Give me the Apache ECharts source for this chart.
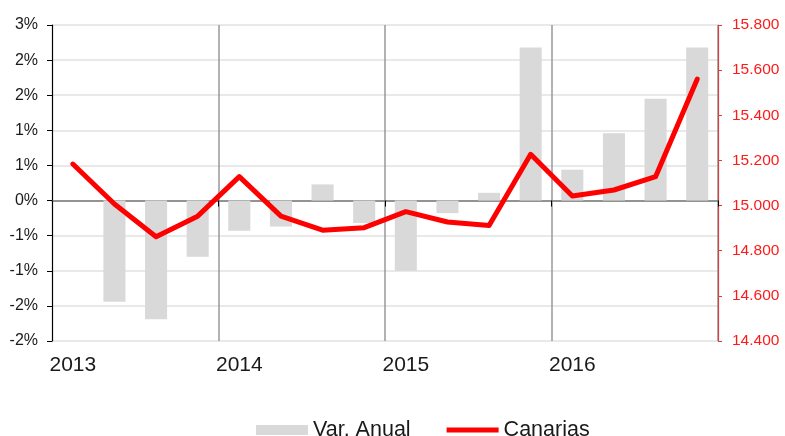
<!DOCTYPE html>
<html>
<head>
<meta charset="utf-8">
<script src="https://cdn.jsdelivr.net/npm/echarts@6/dist/echarts.min.js"></script>
<style>html,body{margin:0;padding:0;background:#fff;}#c{width:785px;height:436px;}</style>
</head>
<body>
<div id="c"></div>
<script>
const quarters = ['2013 T1','2013 T2','2013 T3','2013 T4','2014 T1','2014 T2','2014 T3','2014 T4','2015 T1','2015 T2','2015 T3','2015 T4','2016 T1','2016 T2','2016 T3','2016 T4'];
const yearLabels = ['2013','2014','2015','2016'];
const varAnual = [null, -1.44, -1.69, -0.80, -0.43, -0.37, 0.23, -0.32, -1.00, -0.18, 0.11, 2.18, 0.44, 0.96, 1.45, 2.18];
const canarias = [15184, 15007, 14862, 14953, 15128, 14953, 14891, 14902, 14973, 14927, 14912, 15227, 15042, 15069, 15128, 15560];

const FONT = 'Liberation Sans, Arial, sans-serif';
const chart = echarts.init(document.getElementById('c'), null, {renderer: 'canvas'});
const yearTick = (i) => i % 4 === 0;
const lineIcon = 'path://M0,0L0.01,0L0.01,0.01Z M52,10L51.99,10L51.99,9.99Z M0,2.6L52,2.6L52,7.4L0,7.4Z';
chart.setOption({
  animation: false,
  textStyle: {fontFamily: FONT},
  grid: {left: 52, right: 67, top: 25, bottom: 95, containLabel: false},
  legend: {
    left: 251, top: 414,
    itemWidth: 52, itemHeight: 10, itemGap: 36,
    textStyle: {fontFamily: FONT, fontSize: 21.5, color: '#1a1a1a'},
    data: [
      {name: 'Var. Anual', icon: 'rect'},
      {name: 'Canarias', icon: lineIcon}
    ]
  },
  xAxis: [
    {
      type: 'category', data: quarters, position: 'bottom',
      axisLine: {show: false, onZero: false},
      axisTick: {show: false},
      axisLabel: {
        interval: 0, margin: 14, color: '#1a1a1a', fontSize: 21, fontFamily: FONT,
        formatter: (v, i) => yearTick(i) ? yearLabels[i / 4] : ''
      },
      splitLine: {show: true, interval: (i) => i % 4 === 0 && i > 0, lineStyle: {color: '#999', width: 1.5}}
    },
    {
      type: 'category', data: quarters, position: 'top',
      axisLine: {show: true, onZero: true, onZeroAxisIndex: 0, lineStyle: {color: '#777', width: 1.5}},
      axisTick: {show: true, interval: (i) => i % 4 === 0, length: 6, inside: true, lineStyle: {color: '#000', width: 1}},
      axisLabel: {show: false},
      splitLine: {show: false}
    }
  ],
  yAxis: [
    {
      type: 'value', min: -2, max: 2.5, interval: 0.5, position: 'left',
      axisLine: {show: true, lineStyle: {color: '#000', width: 1.2}},
      axisTick: {show: true, length: 5, lineStyle: {color: '#000'}},
      axisLabel: {
        margin: 14, color: '#1a1a1a', fontSize: 16, fontFamily: FONT,
        formatter: (v) => { const s = v < 0 ? -1 : 1; const r = s * Math.round(Math.abs(v)); return (r === 0 ? 0 : r) + '%'; }
      },
      splitLine: {show: true, lineStyle: {color: '#e2e2e2', width: 1.5}}
    },
    {
      type: 'value', min: 14400, max: 15800, interval: 200, position: 'right',
      axisLine: {show: true, lineStyle: {color: '#d24444', width: 1.2}},
      axisTick: {show: true, length: 4, lineStyle: {color: '#d24444'}},
      axisLabel: {
        margin: 14, color: '#ff1a1a', fontSize: 15.5, fontFamily: FONT,
        formatter: (v) => (v / 1000).toFixed(3)
      },
      splitLine: {show: false}
    }
  ],
  series: [
    {
      name: 'Var. Anual', type: 'bar', xAxisIndex: 0, yAxisIndex: 0,
      data: varAnual, barWidth: '53%',
      itemStyle: {color: '#d9d9d9'}
    },
    {
      name: 'Canarias', type: 'line', xAxisIndex: 0, yAxisIndex: 1,
      data: canarias, symbol: 'none', z: 5,
      lineStyle: {color: '#ff0000', width: 5, join: 'round', cap: 'round'},
      itemStyle: {color: '#ff0000'}
    }
  ]
});
</script>
</body>
</html>
